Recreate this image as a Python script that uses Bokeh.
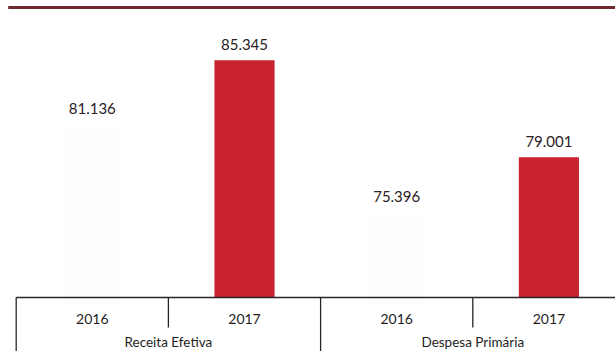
from bokeh.plotting import figure
from bokeh.models import Range1d, ColumnDataSource
from bokeh.core.properties import value
from bokeh.embed import file_html
from bokeh.resources import INLINE

# ---- data ----
groups = ["Receita Efetiva", "Despesa Primária"]
years = ["2016", "2017"]
values_2016 = [81.136, 75.396]
values_2017 = [85.345, 79.001]

# ---- layout constants ----
W, H = 615, 351
base = 69.84          # value axis minimum (bar baseline)
px_per_unit = 15.3
base_px = 297         # screen y of baseline
left_px = 15.7
cell_px = 152.2

y_end = base + base_px / px_per_unit
y_start = base - (H - base_px) / px_per_unit
x_start = -left_px / cell_px
x_end = (W - left_px) / cell_px

# build categorical rows
cats, grp, vals, fills = [], [], [], []
for gi, g in enumerate(groups):
    for yi, yr in enumerate(years):
        cats.append(yr)
        grp.append(g)
        v = values_2016[gi] if yr == "2016" else values_2017[gi]
        vals.append(v)
        fills.append("#fefefe" if yr == "2016" else "#c8232f")
xs = [i + 0.5 for i in range(len(cats))]
src = ColumnDataSource(dict(x=xs, top=vals, cat=cats, fill=fills,
                            label=[f"{v:.3f}" for v in vals],
                            base=[base] * len(vals)))

p = figure(width=W, height=H, output_backend="svg", toolbar_location=None,
           x_range=Range1d(x_start, x_end), y_range=Range1d(y_start, y_end),
           min_border=0, min_border_left=0, min_border_right=0,
           min_border_top=0, min_border_bottom=0)
p.axis.visible = False
p.grid.visible = False
p.outline_line_color = None
p.background_fill_color = "white"
p.border_fill_color = "white"

font = value("Lato")

p.vbar(x="x", top="top", bottom=base, width=0.395, fill_color="fill",
       line_color=None, source=src)

# value labels
p.text(x="x", y="top", text="label", source=src, text_align="center",
       text_baseline="middle", y_offset=-16, text_font=font,
       text_font_size="15px", text_color="#2a2025")

# category (year) labels
p.text(x="x", y="base", text="cat", source=src, text_align="center",
       text_baseline="middle", y_offset=21, text_font=font,
       text_font_size="14px", text_color="#1e1e1e")

# group labels
gx = [2 * i + 1 for i in range(len(groups))]
p.text(x=gx, y=[base] * len(groups), text=groups, text_align="center",
       text_baseline="middle", y_offset=44, text_font=font,
       text_font_size="13.5px", text_color="#1e1e1e")

# table lines
line_col = "#2a2426"
p.segment(x0=[0], y0=[base], x1=[x_end], y1=[base], line_color=line_col,
          line_width=1.5)
outer = [2 * i for i in range(len(groups) + 1)]
p.segment(x0=outer, y0=[base] * len(outer), x1=outer,
          y1=[y_start] * len(outer), line_color=line_col, line_width=1.3)
inner = [2 * i + 1 for i in range(len(groups))]
inner_end = base - 30 / px_per_unit
p.segment(x0=inner, y0=[base] * len(inner), x1=inner,
          y1=[inner_end] * len(inner), line_color=line_col, line_width=1.3)

# top decorative rule
top_val = base + (base_px - 7) / px_per_unit
p.segment(x0=[-8 / cell_px], y0=[top_val], x1=[x_end], y1=[top_val],
          line_color="#6e2a2e", line_width=3)

open("out.html", "w").write(file_html(p, INLINE))
